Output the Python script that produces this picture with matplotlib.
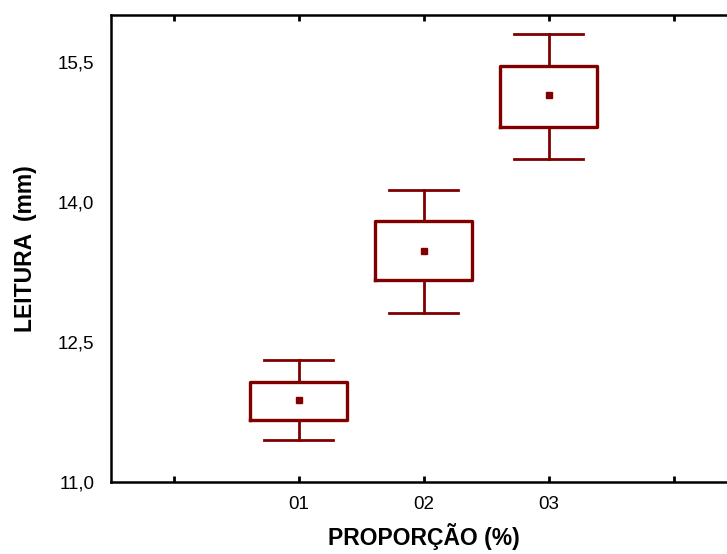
import matplotlib
matplotlib.use('Agg')
import matplotlib.pyplot as plt

plt.rcParams['font.family'] = ['Liberation Sans', 'DejaVu Sans']

# grupos e estatisticas (media, media +- EP, media +- 1,96 EP)
grupos = ['01', '02', '03']
posicoes = [1, 2, 3]
medias = [11.88, 13.47, 15.14]
caixa_inf = [11.66, 13.16, 14.80]
caixa_sup = [12.07, 13.79, 15.45]
bigode_inf = [11.45, 12.81, 14.46]
bigode_sup = [12.31, 14.13, 15.80]

cor = '#800000'

stats = []
for g, m, q1, q3, lo, hi in zip(grupos, medias, caixa_inf, caixa_sup, bigode_inf, bigode_sup):
    stats.append({'label': g, 'med': m, 'mean': m, 'q1': q1, 'q3': q3,
                  'whislo': lo, 'whishi': hi, 'fliers': []})

fig = plt.figure(figsize=(7.27, 5.54), dpi=100)
ax = fig.add_axes([0.1527, 0.130, 0.860, 0.843])

ax.bxp(stats, positions=posicoes, widths=0.78, capwidths=0.55,
       showmeans=True, shownotches=False,
       boxprops=dict(color=cor, linewidth=2.4),
       whiskerprops=dict(color=cor, linewidth=2.0),
       capprops=dict(color=cor, linewidth=2.0),
       medianprops=dict(linewidth=0),
       meanprops=dict(marker='s', markersize=4, markerfacecolor=cor,
                      markeredgecolor=cor))

ax.set_xlim(-0.5, 4.5)
ax.set_ylim(11, 16)
ax.set_xticks([0, 1, 2, 3, 4])
ax.set_xticklabels(['', '01', '02', '03', ''])
ax.set_yticks([11.0, 12.5, 14.0, 15.5])
ax.set_yticklabels(['11,0', '12,5', '14,0', '15,5'])

ax.tick_params(axis='x', direction='in', length=4, width=2, top=True,
               labelsize=13.5, pad=10)
ax.tick_params(axis='y', length=0, labelsize=13.5, pad=12)

for s in ax.spines.values():
    s.set_linewidth(1.8)

ax.set_xlabel('PROPORÇÃO (%)', fontsize=16.5, fontweight='bold', labelpad=7)
ax.set_ylabel('LEITURA  (mm)', fontsize=16.5, fontweight='bold', labelpad=15)

fig.savefig('out.png', dpi=100)
